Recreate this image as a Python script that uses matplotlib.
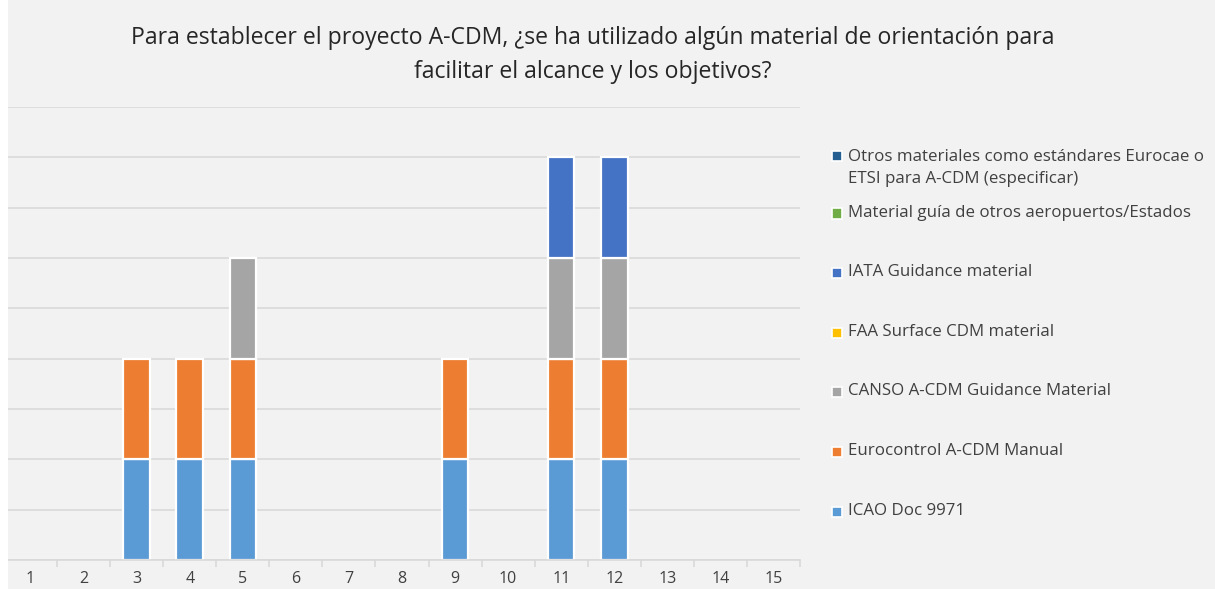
import numpy as np
import matplotlib
matplotlib.use("Agg")
import matplotlib.pyplot as plt
from matplotlib.patches import Rectangle

# categories (respondents 1..15)
categories = [str(i) for i in range(1, 16)]

# series, bottom to top of the stack
icao = [0, 0, 1, 1, 1, 0, 0, 0, 1, 0, 1, 1, 0, 0, 0]
eurocontrol = [0, 0, 1, 1, 1, 0, 0, 0, 1, 0, 1, 1, 0, 0, 0]
canso = [0, 0, 0, 0, 1, 0, 0, 0, 0, 0, 1, 1, 0, 0, 0]
faa = [0] * 15
iata = [0, 0, 0, 0, 0, 0, 0, 0, 0, 0, 1, 1, 0, 0, 0]
guia = [0] * 15
otros = [0] * 15

series_names = [
    "ICAO Doc 9971",
    "Eurocontrol A-CDM Manual",
    "CANSO A-CDM Guidance Material",
    "FAA Surface CDM material",
    "IATA Guidance material",
    "Material guía de otros aeropuertos/Estados",
    "Otros materiales como estándares Eurocae o\nETSI para A-CDM (especificar)",
]
series_values = [icao, eurocontrol, canso, faa, iata, guia, otros]
series_colors = ["#5B9BD5", "#ED7D31", "#A5A5A5", "#FFC000", "#4472C4", "#70AD47", "#255E91"]

title = "Para establecer el proyecto A-CDM, ¿se ha utilizado algún material de orientación para\nfacilitar el alcance y los objetivos?"

plt.rcParams['font.family'] = ['Open Sans', 'DejaVu Sans']
W, H = 1215, 589
bg = "#F2F2F2"
txt = "#404040"

fig = plt.figure(figsize=(W / 100, H / 100), dpi=100, facecolor=bg)
ax = fig.add_axes([4 / W, 1 - 560 / H, 796 / W, 453 / H])
ax.set_facecolor(bg)

x = np.arange(1, 16)
bottom = np.zeros(15)
for name, vals, col in zip(series_names, series_values, series_colors):
    vals = np.array(vals, dtype=float)
    lw = [1.6 if v > 0 else 0 for v in vals]
    ax.bar(x, vals, 0.5, bottom=bottom, color=col, edgecolor="white",
           linewidth=lw, zorder=3)
    bottom += vals

ax.set_xlim(0.5, 15.5)
ax.set_ylim(0, 4.5)
ax.set_yticks(np.arange(0, 4.51, 0.5))
ax.yaxis.grid(True, color="#D9D9D9", linewidth=1.2, zorder=0)
ax.tick_params(axis="y", left=False, labelleft=False)
for s in ["left", "right", "top"]:
    ax.spines[s].set_visible(False)
ax.spines["bottom"].set_color("#D9D9D9")
ax.spines["bottom"].set_linewidth(1.2)
ax.spines["bottom"].set_zorder(4)

ax.set_xticks(x)
ax.set_xticklabels(categories, fontsize=11.5, color=txt)
ax.set_xticks(np.arange(0.5, 15.6, 1), minor=True)
ax.tick_params(axis="x", which="major", length=0, pad=8)
ax.tick_params(axis="x", which="minor", length=5, color="#D9D9D9", width=1.2)

# white strip at the far left, as in the original image
fig.add_artist(Rectangle((0, 0), 8 / W, 1, transform=fig.transFigure,
                         facecolor="white", edgecolor="none", zorder=10))

fig.text(593 / W, 1 - 55 / H, title, ha="center", va="center",
         fontsize=16.6, color="#262626", linespacing=1.6)

# legend, drawn top to bottom (reverse of stack order)
leg_y = [155, 213, 272, 332, 391, 451, 511]
for name, col, yy in zip(series_names[::-1], series_colors[::-1], leg_y):
    fig.patches.append(Rectangle(((833 - 1.5) / W, 1 - (yy + 5.5) / H), 10 / W, 10 / H,
                                 transform=fig.transFigure, facecolor=col,
                                 edgecolor="white", linewidth=1.2))
    if "\n" in name:
        fig.text(848 / W, 1 - (yy - 6) / H, name, ha="left", va="top",
                 fontsize=12.2, color=txt, linespacing=1.5)
    else:
        fig.text(848 / W, 1 - yy / H, name, ha="left", va="center",
                 fontsize=12.2, color=txt)

fig.savefig("out.png", dpi=100, facecolor=bg)
